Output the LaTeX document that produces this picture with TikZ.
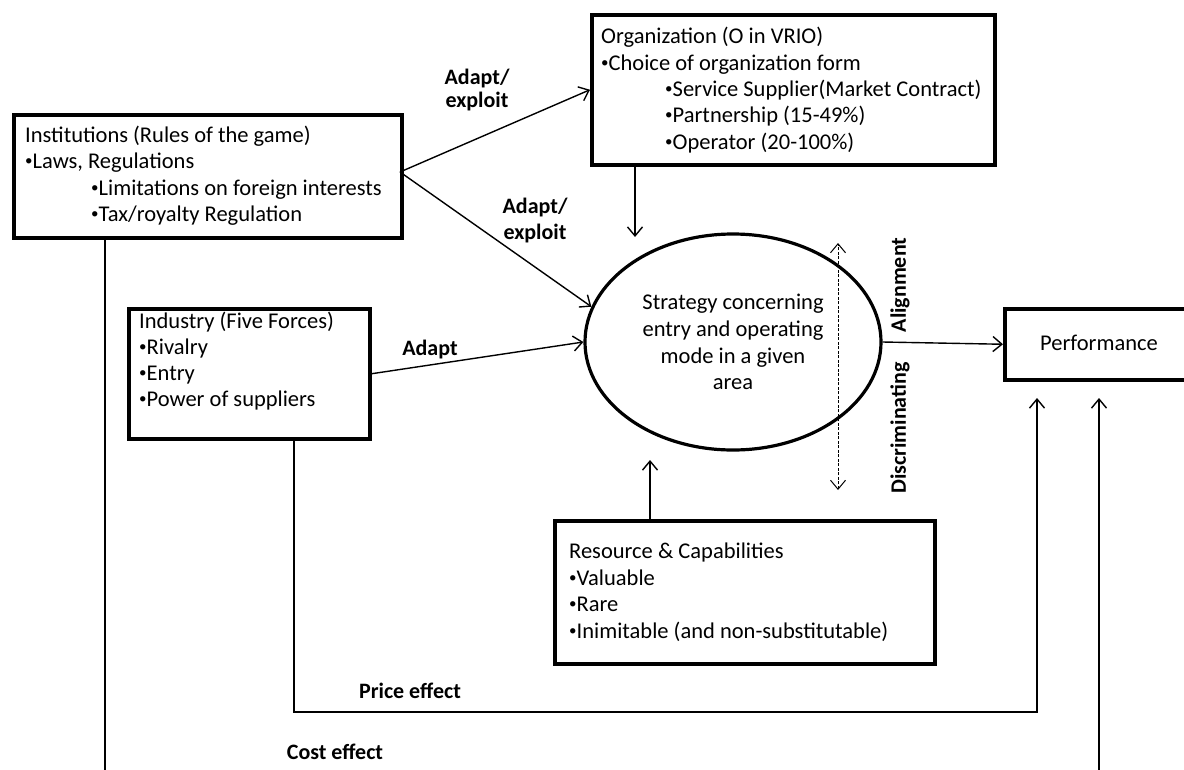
\documentclass[tikz,border=0pt]{standalone}
\usepackage{fontspec}
\setmainfont{Carlito}
\usetikzlibrary{arrows.meta,shapes.geometric}
\newcommand\mybul{\raisebox{0.13em}{\fontsize{15}{15}\selectfont•}}
\begin{document}
\begin{tikzpicture}[x=1pt,y=-1pt,
  box/.style={draw, line width=3.5pt, rectangle, inner sep=0pt, anchor=north west},
  txt/.style={anchor=base west, inner sep=0pt, font=\fontsize{22.5}{26}\selectfont},
  ctxt/.style={anchor=base, inner sep=0pt, font=\fontsize{22.5}{26}\selectfont},
  lab/.style={anchor=base, inner sep=0pt, font=\fontsize{22}{24}\selectfont\bfseries},
  conn/.style={line width=1.4pt},
  arr/.style={conn, -{Straight Barb[length=9pt,width=15pt,line width=1.4pt]}},
  darr/.style={line width=1pt, dash pattern=on 3pt off 1.5pt,
     {Straight Barb[length=9pt,width=15pt,line width=1pt]}-{Straight Barb[length=9pt,width=15pt,line width=1pt]}}
]
\useasboundingbox (0,0) rectangle (1184,769);
\fill[white] (0,0) rectangle (1184,769);

% Institutions
\node[box, minimum width=388pt, minimum height=123pt] (inst) at (12,113) {};
\node[txt] (i1) at (25,142) {Institutions (Rules of the game)};
\node[txt] (i2) at (25,168) {\mybul Laws, Regulations};
\node[txt] (i3) at (91,195) {\mybul Limitations on foreign interests};
\node[txt] (i4) at (91,221) {\mybul Tax/royalty Regulation};

% Organization
\node[box, minimum width=403pt, minimum height=150pt] (org) at (590,13) {};
\node[txt] (o1) at (601,43) {Organization (O in VRIO)};
\node[txt] (o2) at (601,70) {\mybul Choice of organization form};
\node[txt] (o3) at (665,96) {\mybul Service Supplier(Market Contract)};
\node[txt] (o4) at (665,122) {\mybul Partnership (15-49\%)};
\node[txt] (o5) at (665,149) {\mybul Operator (20-100\%)};

% Industry
\node[box, minimum width=241pt, minimum height=130pt] (ind) at (127,307) {};
\node[txt] (n1) at (139,328) {Industry (Five Forces)};
\node[txt] (n2) at (139,354) {\mybul Rivalry};
\node[txt] (n3) at (139,380) {\mybul Entry};
\node[txt] (n4) at (139,406) {\mybul Power of suppliers};

% Strategy ellipse
\node[draw, ellipse, line width=3.2pt, inner sep=0pt, minimum width=296pt, minimum height=216pt] (strat) at (733,342) {};
\node[ctxt] (s1) at (733,309) {Strategy concerning};
\node[ctxt] (s2) at (733,336) {entry and operating};
\node[ctxt] (s3) at (733,363) {mode in a given};
\node[ctxt] (s4) at (733,389) {area};

% Performance
\node[box, minimum width=190pt, minimum height=71pt] (perf) at (1003,307) {};
\node[ctxt] (p1) at (1099,350) {Performance};

% Resources
\node[box, minimum width=380pt, minimum height=143pt] (res) at (553,519) {};
\node[txt] (r1) at (569,558) {Resource \& Capabilities};
\node[txt] (r2) at (569,585) {\mybul Valuable};
\node[txt] (r3) at (569,611) {\mybul Rare};
\node[txt] (r4) at (569,638) {\mybul Inimitable (and non-substitutable)};

% labels
\node[lab] (l1) at (477,84) {Adapt/};
\node[lab] (l2) at (477,107) {exploit};
\node[lab] (l3) at (535,213) {Adapt/};
\node[lab] (l4) at (535,239) {exploit};
\node[lab] (l5) at (430,355) {Adapt};
\node[lab] (l6) at (410,698) {Price effect};
\node[lab] (l7) at (335,759) {Cost effect};
\node[lab, rotate=90, anchor=center] (l8) at (900,285) {Alignment};
\node[lab, rotate=90, anchor=center] (l9) at (900,428) {Discriminating};

% connectors
\coordinate (fork) at (400,172);
\draw[arr] (fork) -- (org.west);
\draw[arr] (fork) -- (strat.166);
\draw[arr] (ind.east) -- (strat.west);
\coordinate (oa) at (635,237);
\draw[arr] (org.south -| oa) -- (oa);
\draw[arr] (strat.east) -- (perf.west);
\coordinate (dt) at (838,243);
\coordinate (db) at (838,490);
\draw[darr] (db) -- (dt);
\coordinate (ra) at (650,460);
\draw[arr] (res.north -| ra) -- (ra);

\coordinate (ix) at (294,712);
\coordinate (pc) at (1037,712);
\coordinate (pt) at (1037,398);
\draw[arr] (ind.south -| ix) -- (ix) -- (pc) -- (pt);

\coordinate (cl) at (105,772);
\draw[conn, line width=1.8pt] (inst.south -| cl) -- (cl);
\coordinate (cr) at (1099,772);
\coordinate (ct) at (1099,398);
\draw[arr, line width=1.8pt] (cr) -- (ct);
\end{tikzpicture}
\end{document}
